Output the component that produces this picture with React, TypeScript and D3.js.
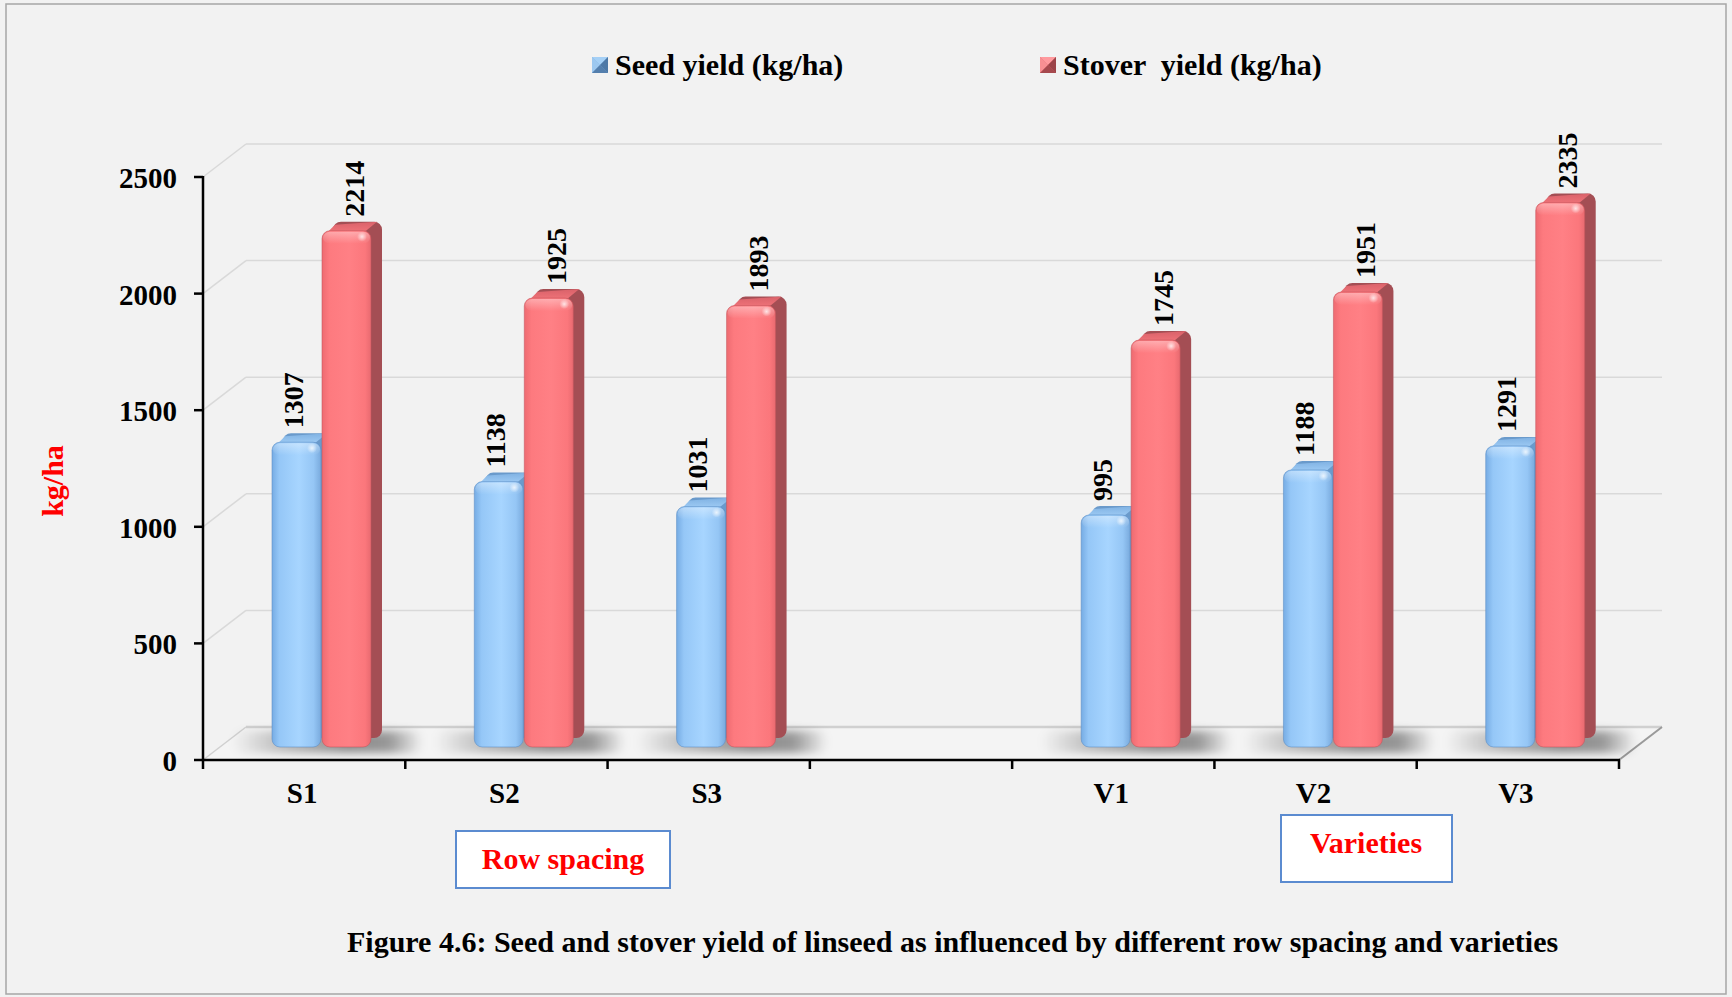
import React from "react";
import * as d3 from "d3";

// ---- data ----
const categories = ["S1", "S2", "S3", "", "V1", "V2", "V3"];
const seedYield: (number | null)[] = [1307, 1138, 1031, null, 995, 1188, 1291];
const stoverYield: (number | null)[] = [2214, 1925, 1893, null, 1745, 1951, 2335];
const yTicks = [0, 500, 1000, 1500, 2000, 2500];
const seriesNames = ["Seed yield (kg/ha)", "Stover  yield (kg/ha)"];
const groupLabels = ["Row spacing", "Varieties"];
const axisTitle = "kg/ha";
const caption =
  "Figure 4.6: Seed and stover yield of linseed as influenced by different row spacing and varieties";

// ---- layout ----
const W = 1732;
const H = 997;
const FONT = "'Liberation Serif', 'Times New Roman', serif";
const X0 = 203;
const X1 = 1619;
const Y_BASE = 760;
const Y_TOP = 177;
const DEPTH = { x: 43, y: -33 }; // wall / floor depth
const BAR_SHIFT = { x: 18, y: -13 }; // bar plane inside the depth
const BAR_W = 49;
const BAR_INSET = 51;
const BD = { x: 11, y: -9 }; // depth of a single column

const palette = {
  seed: { side: "#6a9acb", stroke: "#5b8cc2", front: "gSeedFront", topG: "gSeedTop" },
  stover: { side: "#a44e54", stroke: "#c2565c", front: "gStoverFront", topG: "gStoverTop" },
};

type Kind = "seed" | "stover";

function Column({ xl, top, bottom, kind }: { xl: number; top: number; bottom: number; kind: Kind }) {
  const c = palette[kind];
  const h = bottom - top;
  const r = 8;
  const topFace = `M${xl + 2},${top + 5} L${xl + 2 + BD.x},${top + BD.y + 3} L${xl + BAR_W - 5 + BD.x},${top + BD.y} L${xl + BAR_W - 5},${top} Z`;
  return (
    <g>
      <rect x={xl + BD.x} y={top + BD.y} width={BAR_W} height={h} rx={r} fill={c.side} />
      <path d={topFace} fill={`url(#${c.topG})`} />
      <rect
        x={xl}
        y={top}
        width={BAR_W}
        height={h}
        rx={r}
        fill={`url(#${c.front})`}
        stroke={c.stroke}
        strokeOpacity={0.55}
        strokeWidth={1}
      />
      <rect x={xl + 1} y={top + 1} width={BAR_W - 2} height={12} rx={7} fill="url(#gSheen)" />
      <circle cx={xl + BAR_W - 9} cy={top + 6} r={5} fill="url(#gSpot)" />
    </g>
  );
}

function LegendMarker({ x, y, light, mid, dark }: { x: number; y: number; light: string; mid: string; dark: string }) {
  const s = 16;
  return (
    <g>
      <rect x={x} y={y} width={s} height={s} fill={mid} />
      <path d={`M${x},${y} L${x + s},${y} L${x + s / 2},${y + s / 2} Z`} fill={light} />
      <path d={`M${x},${y} L${x + s / 2},${y + s / 2} L${x},${y + s} Z`} fill={light} opacity={0.8} />
      <path d={`M${x + s},${y} L${x + s},${y + s} L${x + s / 2},${y + s / 2} Z`} fill={dark} />
      <path d={`M${x},${y + s} L${x + s},${y + s} L${x + s / 2},${y + s / 2} Z`} fill={dark} opacity={0.85} />
    </g>
  );
}

export default function App() {
  const x = d3.scaleBand<string>().domain(categories).range([X0, X1]).paddingInner(0).paddingOuter(0);
  const y = d3.scaleLinear().domain([0, 2500]).range([Y_BASE, Y_TOP]);
  const bw = x.bandwidth();
  const boundaries = d3.range(categories.length + 1).map((i) => X0 + i * bw);
  const barBottom = y(0) + BAR_SHIFT.y;

  return (
    <div style={{ position: "absolute", left: 0, top: 0 }}>
      <svg width={W} height={H} viewBox={`0 0 ${W} ${H}`} style={{ display: "block" }}>
        <defs>
          <linearGradient id="gSeedFront" x1="0" y1="0" x2="1" y2="0">
            <stop offset="0" stopColor="#76ace4" />
            <stop offset="0.15" stopColor="#95c7f7" />
            <stop offset="0.55" stopColor="#a7d5ff" />
            <stop offset="0.85" stopColor="#95c6f5" />
            <stop offset="1" stopColor="#79aadd" />
          </linearGradient>
          <linearGradient id="gStoverFront" x1="0" y1="0" x2="1" y2="0">
            <stop offset="0" stopColor="#ee6b71" />
            <stop offset="0.15" stopColor="#fd7a7f" />
            <stop offset="0.55" stopColor="#ff8085" />
            <stop offset="0.88" stopColor="#fb777c" />
            <stop offset="1" stopColor="#e86a70" />
          </linearGradient>
          <linearGradient id="gSeedTop" x1="0" y1="1" x2="0" y2="0">
            <stop offset="0" stopColor="#a9d4fb" />
            <stop offset="1" stopColor="#7fb1e2" />
          </linearGradient>
          <linearGradient id="gStoverTop" x1="0" y1="1" x2="0" y2="0">
            <stop offset="0" stopColor="#f8797e" />
            <stop offset="1" stopColor="#d9626a" />
          </linearGradient>
          <linearGradient id="gSheen" x1="0" y1="0" x2="0" y2="1">
            <stop offset="0" stopColor="#ffffff" stopOpacity={0.35} />
            <stop offset="1" stopColor="#ffffff" stopOpacity={0} />
          </linearGradient>
          <radialGradient id="gSpot">
            <stop offset="0" stopColor="#ffffff" stopOpacity={0.75} />
            <stop offset="1" stopColor="#ffffff" stopOpacity={0} />
          </radialGradient>
          <linearGradient id="gShadow" x1="0" y1="0" x2="1" y2="0">
            <stop offset="0" stopColor="#000" stopOpacity={0} />
            <stop offset="0.25" stopColor="#000" stopOpacity={0.22} />
            <stop offset="0.6" stopColor="#000" stopOpacity={0.42} />
            <stop offset="0.82" stopColor="#000" stopOpacity={0.38} />
            <stop offset="1" stopColor="#000" stopOpacity={0} />
          </linearGradient>
          <filter id="fShadow" x="-30%" y="-100%" width="160%" height="300%">
            <feGaussianBlur stdDeviation="4" />
          </filter>
        </defs>

        {/* frame */}
        <rect x={0} y={0} width={W} height={H} fill="#f2f2f2" />
        <rect x={6} y={4} width={1720} height={990} fill="#f2f2f2" stroke="#a6a6a6" strokeWidth={1.5} />

        {/* legend */}
        <LegendMarker x={592} y={57} light="#a5d0f6" mid="#7aa9d8" dark="#4d78a6" />
        <text x={615} y={75} fontFamily={FONT} fontWeight="bold" fontSize={30} fill="#000">
          {seriesNames[0]}
        </text>
        <LegendMarker x={1040} y={57} light="#ff9a9e" mid="#d9646a" dark="#9c4449" />
        <text x={1063} y={75} fontFamily={FONT} fontWeight="bold" fontSize={30} fill="#000" style={{ whiteSpace: "pre" }}>
          {seriesNames[1]}
        </text>

        {/* back wall gridlines with side-wall diagonals */}
        {yTicks
          .filter((t) => t > 0)
          .map((t) => (
            <g key={`g${t}`} stroke="#d9d9d9" strokeWidth={1.5} fill="none">
              <line x1={X0} y1={y(t)} x2={X0 + DEPTH.x} y2={y(t) + DEPTH.y} />
              <line x1={X0 + DEPTH.x} y1={y(t) + DEPTH.y} x2={X1 + DEPTH.x} y2={y(t) + DEPTH.y} />
            </g>
          ))}

        {/* floor */}
        <path
          d={`M${X0},${Y_BASE} L${X1},${Y_BASE} L${X1 + DEPTH.x},${Y_BASE + DEPTH.y} L${X0 + DEPTH.x},${Y_BASE + DEPTH.y} Z`}
          fill="#f4f4f4"
        />
        <line x1={X0 + DEPTH.x} y1={Y_BASE + DEPTH.y} x2={X1 + DEPTH.x} y2={Y_BASE + DEPTH.y} stroke="#d0d0d0" strokeWidth={2.5} />
        <line x1={X0} y1={Y_BASE} x2={X0 + DEPTH.x} y2={Y_BASE + DEPTH.y} stroke="#d0d0d0" strokeWidth={1.5} />
        <line x1={X1} y1={Y_BASE} x2={X1 + DEPTH.x} y2={Y_BASE + DEPTH.y} stroke="#9a9a9a" strokeWidth={2} />

        {/* floor shadows */}
        {categories.map((c, i) =>
          seedYield[i] == null ? null : (
            <rect
              key={`sh${i}`}
              x={(x(c) as number) + BAR_SHIFT.x + BAR_INSET - 40}
              y={731}
              width={2 * BAR_W + 1 + 92}
              height={22}
              rx={10}
              fill="url(#gShadow)"
              filter="url(#fShadow)"
            />
          )
        )}

        {/* columns */}
        {categories.map((c, i) => {
          const s = seedYield[i];
          const v = stoverYield[i];
          if (s == null || v == null) return null;
          const xb = (x(c) as number) + BAR_SHIFT.x + BAR_INSET;
          const xr = xb + BAR_W + 1;
          const ts = y(s) + BAR_SHIFT.y;
          const tv = y(v) + BAR_SHIFT.y;
          return (
            <g key={`b${i}`}>
              <Column xl={xb} top={ts} bottom={barBottom} kind="seed" />
              <Column xl={xr} top={tv} bottom={barBottom} kind="stover" />
              <text
                transform={`translate(${xb + BAR_W / 2 + 6},${ts - 14}) rotate(-90)`}
                fontFamily={FONT}
                fontWeight="bold"
                fontSize={28}
                fill="#000"
              >
                {s}
              </text>
              <text
                transform={`translate(${xr + BAR_W / 2 + 17},${tv - 14}) rotate(-90)`}
                fontFamily={FONT}
                fontWeight="bold"
                fontSize={28}
                fill="#000"
              >
                {v}
              </text>
            </g>
          );
        })}

        {/* y axis */}
        <line x1={X0} y1={Y_TOP - 1} x2={X0} y2={Y_BASE + 1} stroke="#000" strokeWidth={2.5} />
        {yTicks.map((t) => (
          <g key={`yt${t}`}>
            <line x1={X0 - 9} y1={y(t)} x2={X0} y2={y(t)} stroke="#000" strokeWidth={2.5} />
            <text x={177} y={y(t) + 11} textAnchor="end" fontFamily={FONT} fontWeight="bold" fontSize={29} fill="#000">
              {t}
            </text>
          </g>
        ))}
        <text
          transform="translate(63,481) rotate(-90)"
          textAnchor="middle"
          fontFamily={FONT}
          fontWeight="bold"
          fontSize={30}
          fill="#ff0000"
        >
          {axisTitle}
        </text>

        {/* x axis */}
        <line x1={X0 - 1} y1={Y_BASE} x2={X1 + 1} y2={Y_BASE} stroke="#000" strokeWidth={2.5} />
        {boundaries.map((bx, i) => (
          <line key={`xt${i}`} x1={bx} y1={Y_BASE} x2={bx} y2={Y_BASE + 9} stroke="#000" strokeWidth={2.5} />
        ))}
        {categories.map((c) =>
          c ? (
            <text
              key={`xl${c}`}
              x={(x(c) as number) + bw / 2 - 2}
              y={803}
              textAnchor="middle"
              fontFamily={FONT}
              fontWeight="bold"
              fontSize={29}
              fill="#000"
            >
              {c}
            </text>
          ) : null
        )}

        {/* group boxes */}
        <rect x={456} y={831} width={214} height={57} fill="#ffffff" stroke="#5b8bd0" strokeWidth={2} />
        <text x={563} y={869} textAnchor="middle" fontFamily={FONT} fontWeight="bold" fontSize={30} fill="#ff0000">
          {groupLabels[0]}
        </text>
        <rect x={1281} y={815} width={171} height={67} fill="#ffffff" stroke="#5b8bd0" strokeWidth={2} />
        <text x={1366} y={853} textAnchor="middle" fontFamily={FONT} fontWeight="bold" fontSize={30} fill="#ff0000">
          {groupLabels[1]}
        </text>

        {/* caption */}
        <text x={347} y={952} fontFamily={FONT} fontWeight="bold" fontSize={30} fill="#000">
          {caption}
        </text>
      </svg>
    </div>
  );
}
